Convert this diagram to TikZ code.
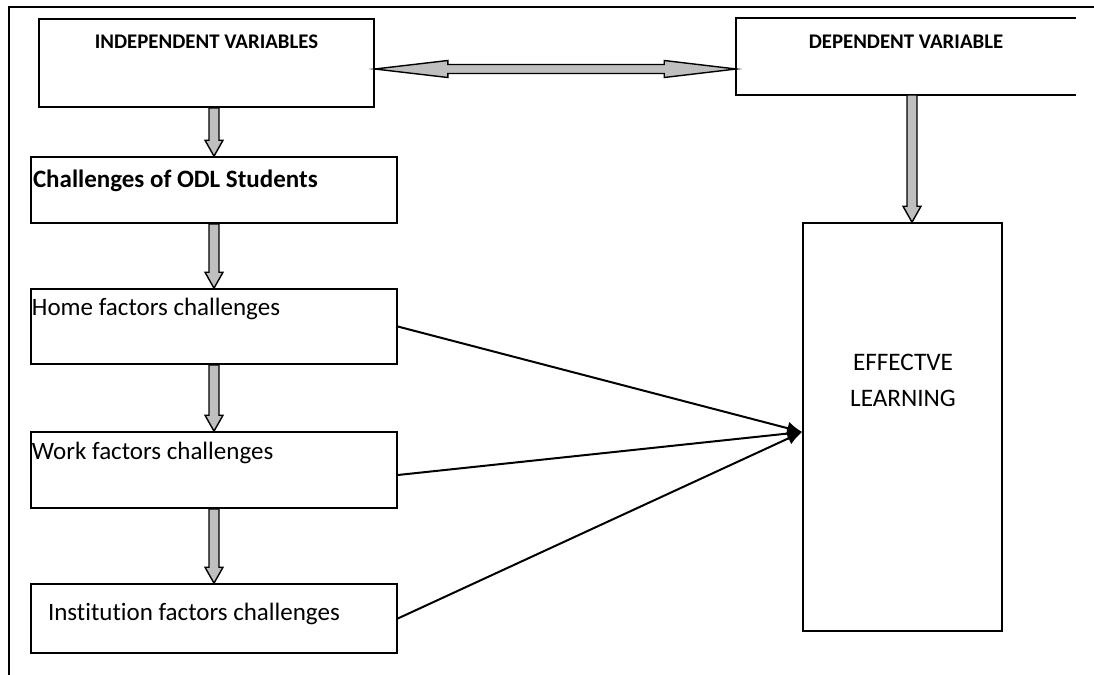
\documentclass[tikz,border=0pt]{standalone}
\usepackage{fontspec}
\setmainfont{Carlito}[Ligatures=NoCommon]
\usetikzlibrary{calc,positioning,arrows.meta}

\newcommand{\blkdown}[2]{%
  \draw[blk] let \p1=(#1), \p2=(#2) in
    (\x2-2.5pt,\y1) -- (\x2-2.5pt,\y2+8pt) -- (\x2-4.5pt,\y2+8pt) -- (\x2,\y2)
    -- (\x2+4.5pt,\y2+8pt) -- (\x2+2.5pt,\y2+8pt) -- (\x2+2.5pt,\y1) -- cycle;}
\newcommand{\blkboth}[2]{%
  \draw[blk] let \p1=(#1), \p2=(#2) in
    (\x1,\y1) -- (\x1+36.5pt,\y1+4.25pt) -- (\x1+36.5pt,\y1+2.25pt) -- (\x2-36pt,\y1+2.25pt)
    -- (\x2-36pt,\y1+4.25pt) -- (\x2,\y1) -- (\x2-36pt,\y1-4.25pt) -- (\x2-36pt,\y1-2.25pt)
    -- (\x1+36.5pt,\y1-2.25pt) -- (\x1+36.5pt,\y1-4.25pt) -- cycle;}

\begin{document}
\begin{tikzpicture}[x=0.5pt,y=-0.5pt,line width=0.8pt,
    box/.style={draw,rectangle,inner sep=0pt},
    blk/.style={draw,fill=black!25,line width=0.7pt,line join=miter},
    head/.style={font=\bfseries\fontsize{10.4}{12}\selectfont,inner sep=0pt},
    txt/.style={font=\fontsize{12.5}{15}\selectfont,inner sep=0pt},
    link/.style={-{Latex[length=7.5pt,width=6.5pt]},line width=1pt}]
\useasboundingbox (0,0) rectangle (1094,675);
\draw (9,675) -- (9,7) -- (1094,7);

\node[box,minimum width=167.5pt,minimum height=44pt] (iv) at (206.5,63) {};
\node[head,below=8pt of iv.north] (ivt) {INDEPENDENT VARIABLES};
\node[inner sep=0pt,minimum width=169pt,minimum height=37.5pt] (dv) at (906,56.5) {};
\draw (dv.north east) -- (dv.north west) -- (dv.south west) -- (dv.south east);
\node[head,below=8pt of dv.north] (dvt) {DEPENDENT VARIABLE};

\node[box,minimum width=183pt,minimum height=33pt] (chal) at (214,190) {};
\node[txt,font=\bfseries\fontsize{12.5}{15}\selectfont,anchor=north west] (chalt)
  at ([xshift=1pt,yshift=-6.5pt]chal.north west) {Challenges of ODL Students};
\node[box,minimum width=183pt,minimum height=37.5pt] (home) at (214,326.5) {};
\node[txt,anchor=north west] (homet) at ([xshift=0.5pt,yshift=-4.5pt]home.north west) {Home factors challenges};
\node[box,minimum width=183pt,minimum height=38pt] (work) at (214,470) {};
\node[txt,anchor=north west] (workt) at ([xshift=0.5pt,yshift=-5pt]work.north west) {Work factors challenges};
\node[box,minimum width=183pt,minimum height=34.5pt] (inst) at (214,618.5) {};
\node[txt,anchor=north west] (instt) at ([xshift=8.5pt,yshift=-9.5pt]inst.north west) {Institution factors challenges};

\node[box,minimum width=99.5pt,minimum height=204pt] (el) at (902.5,427) {};
\node[txt,font=\fontsize{12.6}{18}\selectfont,align=center] (elt) at (903,380) {EFFECTVE\\LEARNING};

\blkboth{[yshift=-3pt]iv.east}{dv.west}
\blkdown{iv.south}{chal.north}
\blkdown{chal.south}{home.north}
\blkdown{home.south}{work.north}
\blkdown{work.south}{inst.north}
\blkdown{dv.south}{[xshift=4.75pt]el.north}

\coordinate (tip) at ([yshift=-2.5pt]el.west);
\draw[link] (home.east) -- (tip);
\draw[link] ([yshift=-2.5pt]work.east) -- (tip);
\draw[link] (inst.east) -- (tip);
\end{tikzpicture}
\end{document}
